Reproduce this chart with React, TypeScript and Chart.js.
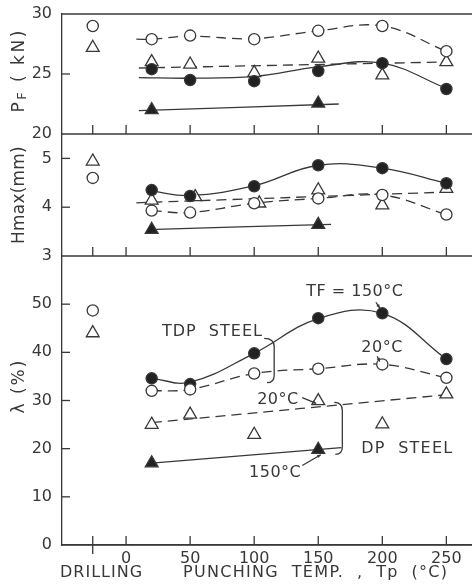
import React, { useEffect, useRef } from "react";
import { Chart, registerables } from "chart.js";
Chart.register(...registerables);

// ---------- data ----------
const PUNCH_TEMPS = [20, 50, 100, 150, 200, 250];
const DP150_TEMPS = [20, 150];
const DRILLING_POS = -26;
const X_TICKS = [0, 50, 100, 150, 200, 250];

// Panel 1: punching force PF (kN)
const PF_TDP_20 = [27.9, 28.2, 27.9, 28.6, 29.0, 26.9];
const PF_TDP_150 = [25.4, 24.5, 24.4, 25.25, 25.9, 23.75];
const PF_DP_20 = [26.0, 25.8, 25.1, 26.3, 24.9, 26.0];
const PF_DP_150 = [22.0, 22.55];
const PF_DRILL_TDP = 29.0;
const PF_DRILL_DP = 27.2;
const PF_FIT_TDP_20_X = [8, 20, 50, 100, 150, 200, 250];
const PF_FIT_TDP_20_Y = [27.9, 27.9, 28.15, 27.95, 28.6, 29.0, 26.9];
const PF_FIT_TDP_150_X = [10, 50, 100, 150, 200, 250];
const PF_FIT_TDP_150_Y = [24.7, 24.65, 24.8, 25.6, 25.9, 23.8];
const PF_FIT_DP_20_X = [10, 250];
const PF_FIT_DP_20_Y = [25.5, 26.0];
const PF_FIT_DP_150_X = [10, 166];
const PF_FIT_DP_150_Y = [21.95, 22.5];

// Panel 2: Hmax (mm)
const H_TDP_20 = [3.93, 3.89, 4.08, 4.18, 4.25, 3.85];
const H_TDP_150 = [4.35, 4.23, 4.43, 4.86, 4.8, 4.49];
const H_DP_20_TEMPS = [20, 54, 104, 150, 200, 250];
const H_DP_20 = [4.14, 4.21, 4.08, 4.35, 4.04, 4.38];
const H_DP_150 = [3.54, 3.64];
const H_DRILL_TDP = 4.6;
const H_DRILL_DP = 4.94;
const H_FIT_TDP_150_X = [20, 50, 100, 150, 200, 250];
const H_FIT_TDP_150_Y = [4.33, 4.24, 4.44, 4.86, 4.8, 4.49];
const H_FIT_DP_20_X = [8, 250];
const H_FIT_DP_20_Y = [4.09, 4.31];
const H_FIT_DP_150_X = [17, 160];
const H_FIT_DP_150_Y = [3.54, 3.65];

// Panel 3: hole expansion ratio lambda (%)
const L_TDP_20 = [32.0, 32.3, 35.6, 36.6, 37.5, 34.7];
const L_TDP_150 = [34.6, 33.4, 39.8, 47.1, 48.1, 38.6];
const L_DP_20 = [25.0, 27.1, 22.9, 29.9, 25.1, 31.3];
const L_DP_150 = [17.0, 19.8];
const L_DRILL_TDP = 48.7;
const L_DRILL_DP = 44.0;
const L_FIT_TDP_150_X = [20, 50, 100, 150, 200, 250];
const L_FIT_TDP_150_Y = [34.6, 33.8, 39.8, 47.0, 48.1, 38.6];
const L_FIT_DP_20_X = [20, 250];
const L_FIT_DP_20_Y = [25.4, 31.2];
const L_FIT_DP_150_X = [20, 168];
const L_FIT_DP_150_Y = [17.0, 20.2];

const INK = "#383838";
const FONT = '"DejaVu Sans", sans-serif';
const TARGET_TOP = 14;

const pts = (xs: number[], ys: number[]) => xs.map((x, i) => ({ x, y: ys[i] }));

function markerDs(data: any[], yAxisID: string, style: string, filled: boolean) {
  return {
    type: "scatter",
    data,
    yAxisID,
    xAxisID: "x",
    showLine: false,
    pointStyle: style,
    pointRadius: style === "triangle" ? 7.4 : 5.6,
    pointBorderWidth: 1.3,
    pointBorderColor: INK,
    pointBackgroundColor: filled ? "#222" : "#fff",
    order: 0,
  };
}
function lineDs(data: any[], yAxisID: string, dashed: boolean) {
  return {
    type: "scatter",
    data,
    yAxisID,
    xAxisID: "x",
    showLine: true,
    pointRadius: 0,
    borderColor: INK,
    borderWidth: 1.3,
    borderDash: dashed ? [10, 6] : [],
    tension: 0.4,
    fill: false,
    order: 1,
  };
}

function drawText(ctx: any, text: string, x: number, y: number, size = 16, spacing = 1.5) {
  ctx.save();
  ctx.font = `${size}px ${FONT}`;
  (ctx as any).letterSpacing = `${spacing}px`;
  ctx.fillStyle = INK;
  ctx.textAlign = "left";
  ctx.textBaseline = "middle";
  ctx.fillText(text, x, y);
  ctx.restore();
}

const decorPlugin = {
  id: "decor",
  afterDraw(chart: any) {
    const { ctx, chartArea } = chart;
    const { left, right, top, bottom } = chartArea;
    const sx = chart.scales.x;
    const panels = [chart.scales.yP, chart.scales.yH, chart.scales.yL];
    const yL = chart.scales.yL;
    const X = (v: number) => sx.getPixelForValue(v);
    const Y = (v: number) => yL.getPixelForValue(v);
    ctx.save();
    ctx.strokeStyle = INK;
    ctx.lineWidth = 1.3;
    const seg = (x1: number, y1: number, x2: number, y2: number) => {
      ctx.beginPath();
      ctx.moveTo(x1, y1);
      ctx.lineTo(x2, y2);
      ctx.stroke();
    };
    // frame top
    seg(left, top, right, top);
    panels.forEach((s: any) => {
      seg(left, s.bottom, right, s.bottom);
      s.ticks.forEach((t: any) => {
        const py = s.getPixelForValue(t.value);
        if (Math.abs(py - s.top) > 1 && Math.abs(py - s.bottom) > 1) seg(left, py, left + 8, py);
      });
      [DRILLING_POS, ...X_TICKS].forEach((v) => {
        const px = X(v);
        seg(px, s.bottom - 9, px, s.bottom);
      });
    });
    // drilling separator below the axis
    seg(X(DRILLING_POS), bottom, X(DRILLING_POS), bottom + 9);

    // brackets
    ctx.beginPath();
    ctx.moveTo(X(107.8), Y(42.9));
    ctx.quadraticCurveTo(X(115.6), Y(42.9), X(115.6), Y(41.2));
    ctx.lineTo(X(115.6), Y(35.2));
    ctx.quadraticCurveTo(X(115.6), Y(33.7), X(110), Y(33.7));
    ctx.stroke();
    ctx.beginPath();
    ctx.moveTo(X(162.5), Y(29.6));
    ctx.quadraticCurveTo(X(168.8), Y(29.6), X(168.8), Y(27.9));
    ctx.lineTo(X(168.8), Y(20.4));
    ctx.quadraticCurveTo(X(168.8), Y(18.8), X(163.3), Y(18.8));
    ctx.stroke();

    // leaders
    const leader = (x1: number, y1: number, x2: number, y2: number) => {
      const a = X(x1), b = Y(y1), c = X(x2), d = Y(y2);
      seg(a, b, c, d);
      const ang = Math.atan2(d - b, c - a);
      ctx.beginPath();
      ctx.moveTo(c, d);
      ctx.lineTo(c - 4 * Math.cos(ang - 0.45), d - 4 * Math.sin(ang - 0.45));
      ctx.lineTo(c - 4 * Math.cos(ang + 0.45), d - 4 * Math.sin(ang + 0.45));
      ctx.closePath();
      ctx.fillStyle = INK;
      ctx.fill();
    };
    leader(195, 50.4, 198, 49.2);
    leader(196, 39.2, 198, 38.1);
    leader(137.5, 30.6, 148.4, 29.4);
    leader(137.5, 16.5, 152, 18.75);

    // annotation texts
    drawText(ctx, "TF = 150°C", X(140.6), Y(52.5), 16, 0.5);
    drawText(ctx, "TDP  STEEL", X(28), Y(44.2), 16, 1);
    drawText(ctx, "20°C", X(183.6), Y(41), 16, 0.5);
    drawText(ctx, "20°C", X(102.3), Y(30.2), 16, 0.5);
    drawText(ctx, "150°C", X(96), Y(15), 16, 0.5);
    drawText(ctx, "DP  STEEL", X(183.6), Y(20), 16, 1.2);

    // x titles
    drawText(ctx, "DRILLING", 60, bottom + 28, 16, 1);
    drawText(ctx, "PUNCHING  TEMP.  ,  Tp  (°C)", 183, bottom + 28, 16, 1.3);

    // y titles (rotated)
    const rot = (parts: { t: string; size: number; dy: number }[], cx: number, cy: number, spacing: number) => {
      ctx.save();
      ctx.translate(cx, cy);
      ctx.rotate(-Math.PI / 2);
      (ctx as any).letterSpacing = `${spacing}px`;
      ctx.fillStyle = INK;
      ctx.textBaseline = "middle";
      ctx.textAlign = "left";
      let total = 0;
      const widths = parts.map((p) => {
        ctx.font = `${p.size}px ${FONT}`;
        const w = ctx.measureText(p.t).width;
        total += w;
        return w;
      });
      let x = -total / 2;
      parts.forEach((p, i) => {
        ctx.font = `${p.size}px ${FONT}`;
        ctx.fillText(p.t, x, p.dy);
        x += widths[i];
      });
      ctx.restore();
    };
    rot([{ t: "P", size: 17, dy: 0 }, { t: "F", size: 13, dy: 3 }, { t: " ( kN)", size: 17, dy: 0 }], 20, chart.scales.yP.getPixelForValue(25.3), 2.5);
    rot([{ t: "Hmax(mm)", size: 17, dy: 0 }], 20, chart.scales.yH.getPixelForValue(4.25), 0.2);
    rot([{ t: "λ (%)", size: 17, dy: 0 }], 20, Y(33), 2);
    ctx.restore();
  },
};

const zeroPadding = (s: any) => {
  s.paddingTop = 0;
  s.paddingBottom = 0;
  s.paddingLeft = 0;
  s.paddingRight = 0;
};

export default function App() {
  const ref = useRef<HTMLCanvasElement>(null);
  useEffect(() => {
    document.body.style.margin = "0";
    Chart.defaults.font.family = FONT;
    const datasets: any[] = [
      // fitted curves
      lineDs(pts(PF_FIT_TDP_20_X, PF_FIT_TDP_20_Y), "yP", true),
      lineDs(pts(PF_FIT_TDP_150_X, PF_FIT_TDP_150_Y), "yP", false),
      lineDs(pts(PF_FIT_DP_20_X, PF_FIT_DP_20_Y), "yP", true),
      lineDs(pts(PF_FIT_DP_150_X, PF_FIT_DP_150_Y), "yP", false),
      lineDs(pts(PUNCH_TEMPS, H_TDP_20), "yH", true),
      lineDs(pts(H_FIT_TDP_150_X, H_FIT_TDP_150_Y), "yH", false),
      lineDs(pts(H_FIT_DP_20_X, H_FIT_DP_20_Y), "yH", true),
      lineDs(pts(H_FIT_DP_150_X, H_FIT_DP_150_Y), "yH", false),
      lineDs(pts(PUNCH_TEMPS, L_TDP_20), "yL", true),
      lineDs(pts(L_FIT_TDP_150_X, L_FIT_TDP_150_Y), "yL", false),
      lineDs(pts(L_FIT_DP_20_X, L_FIT_DP_20_Y), "yL", true),
      lineDs(pts(L_FIT_DP_150_X, L_FIT_DP_150_Y), "yL", false),
      // markers
      markerDs(pts(PUNCH_TEMPS, PF_TDP_20), "yP", "circle", false),
      markerDs(pts(PUNCH_TEMPS, PF_TDP_150), "yP", "circle", true),
      markerDs(pts(PUNCH_TEMPS, PF_DP_20), "yP", "triangle", false),
      markerDs(pts(DP150_TEMPS, PF_DP_150), "yP", "triangle", true),
      markerDs([{ x: DRILLING_POS, y: PF_DRILL_TDP }], "yP", "circle", false),
      markerDs([{ x: DRILLING_POS, y: PF_DRILL_DP }], "yP", "triangle", false),
      markerDs(pts(PUNCH_TEMPS, H_TDP_20), "yH", "circle", false),
      markerDs(pts(PUNCH_TEMPS, H_TDP_150), "yH", "circle", true),
      markerDs(pts(H_DP_20_TEMPS, H_DP_20), "yH", "triangle", false),
      markerDs(pts(DP150_TEMPS, H_DP_150), "yH", "triangle", true),
      markerDs([{ x: DRILLING_POS, y: H_DRILL_TDP }], "yH", "circle", false),
      markerDs([{ x: DRILLING_POS, y: H_DRILL_DP }], "yH", "triangle", false),
      markerDs(pts(PUNCH_TEMPS, L_TDP_20), "yL", "circle", false),
      markerDs(pts(PUNCH_TEMPS, L_TDP_150), "yL", "circle", true),
      markerDs(pts(PUNCH_TEMPS, L_DP_20), "yL", "triangle", false),
      markerDs(pts(DP150_TEMPS, L_DP_150), "yL", "triangle", true),
      markerDs([{ x: DRILLING_POS, y: L_DRILL_TDP }], "yL", "circle", false),
      markerDs([{ x: DRILLING_POS, y: L_DRILL_DP }], "yL", "triangle", false),
    ];
    const yCommon = (min: number, max: number, step: number, weight: number, hide: (v: number) => boolean) => ({
      type: "linear",
      position: "left",
      stack: "panels",
      stackWeight: weight,
      min,
      max,
      grid: { display: false, drawTicks: false },
      border: { display: true, color: INK, width: 1.3 },
      ticks: {
        stepSize: step,
        padding: 10,
        color: INK,
        font: { size: 16, family: FONT },
        callback: (v: any) => (hide(Number(v)) ? "" : String(v)),
      },
      afterFit: (s: any) => {
        s.width = 62;
        zeroPadding(s);
      },
    });
    const chart: any = new Chart(ref.current!, {
      type: "scatter",
      data: { datasets },
      plugins: [decorPlugin],
      options: {
        animation: false,
        responsive: false,
        devicePixelRatio: 1,
        layout: { autoPadding: false, padding: { top: TARGET_TOP, right: 0, left: 0, bottom: 0 } },
        plugins: { legend: { display: false }, tooltip: { enabled: false } },
        scales: {
          x: {
            type: "linear",
            position: "bottom",
            min: -50,
            max: 270,
            grid: { display: false, drawTicks: false },
            border: { display: true, color: INK, width: 1.3 },
            ticks: { padding: 4, color: INK, font: { size: 16, family: FONT } },
            afterBuildTicks: (s: any) => {
              s.ticks = X_TICKS.map((v) => ({ value: v }));
            },
            afterFit: (s: any) => {
              s.height = 42;
              zeroPadding(s);
            },
          },
          // stacked scales are placed bottom-up in definition order
          yL: yCommon(0, 60, 10, 289, (v) => v === 60),
          yH: yCommon(3, 5.5, 0.5, 122, (v) => !Number.isInteger(v)),
          yP: yCommon(20, 30, 5, 120, () => false),
        },
      } as any,
    } as any);
    // safety: keep the plot frame starting at TARGET_TOP
    for (let i = 0; i < 3; i++) {
      const diff = TARGET_TOP - chart.chartArea.top;
      if (Math.abs(diff) < 0.3) break;
      const pad = chart.options.layout.padding;
      chart.options.layout.padding = { ...pad, top: Math.max(0, pad.top + diff) };
      chart.update();
    }
    return () => chart.destroy();
  }, []);
  return (
    <div style={{ width: 472, height: 587, background: "#fff" }}>
      <canvas ref={ref} width={472} height={587} />
    </div>
  );
}
